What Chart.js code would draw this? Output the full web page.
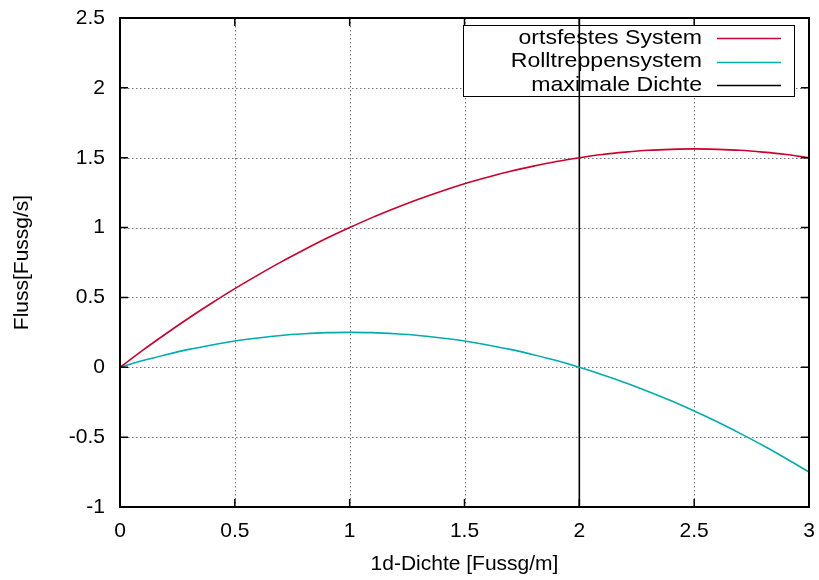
<!DOCTYPE html>
<html>
<head>
<meta charset="utf-8">
<script src="https://cdn.jsdelivr.net/npm/chart.js@4.4.0/dist/chart.umd.min.js"></script>
<style>
  body { margin: 0; background: #fff; }
  canvas { display: block; }
</style>
</head>
<body>
<canvas id="chart" width="819" height="580"></canvas>
<script>
// density values (x axis)
const dichte = [0, 0.1, 0.2, 0.3, 0.4, 0.5, 0.6, 0.7, 0.8, 0.9, 1.0,
  1.1, 1.2, 1.3, 1.4, 1.5, 1.6, 1.7, 1.8, 1.9, 2.0,
  2.1, 2.2, 2.3, 2.4, 2.5, 2.6, 2.7, 2.8, 2.9, 3.0];

// flow, fixed system
const flussOrtsfest = [0, 0.123, 0.24, 0.353, 0.46, 0.563, 0.66, 0.753, 0.84, 0.923, 1.0,
  1.073, 1.14, 1.203, 1.26, 1.313, 1.36, 1.403, 1.44, 1.473, 1.5,
  1.523, 1.54, 1.553, 1.56, 1.563, 1.56, 1.553, 1.54, 1.523, 1.5];

// flow, escalator system
const flussRolltreppe = [0, 0.048, 0.09, 0.128, 0.16, 0.188, 0.21, 0.228, 0.24, 0.248, 0.25,
  0.248, 0.24, 0.228, 0.21, 0.188, 0.16, 0.128, 0.09, 0.048, 0,
  -0.053, -0.11, -0.173, -0.24, -0.313, -0.39, -0.473, -0.56, -0.653, -0.75];

// maximum density marker
const maxDichteX = [2, 2];
const maxDichteY = [-1, 2.5];

const labels = ['ortsfestes System', 'Rolltreppensystem', 'maximale Dichte'];
const colors = ['rgb(204,0,44)', 'rgb(0,172,172)', '#000000'];

const FONT = '"Liberation Sans", Arial, Helvetica, sans-serif';
const FONT_SIZE = 21;

const toPoints = (xs, ys) => xs.map((x, i) => ({ x, y: ys[i] }));

// gnuplot-like frame: dotted grid, inner ticks, key box
const gnuplotFrame = {
  id: 'gnuplotFrame',
  beforeDatasetsDraw(chart) {
    const { ctx, chartArea: a, scales: { x, y } } = chart;
    ctx.save();
    ctx.strokeStyle = 'rgba(0,0,0,0.55)';
    ctx.lineWidth = 1;
    ctx.setLineDash([1.5, 2.5]);
    x.ticks.forEach(t => {
      const px = Math.round(x.getPixelForValue(t.value)) + 0.5;
      if (px <= a.left + 1 || px >= a.right - 1) return;
      ctx.beginPath(); ctx.moveTo(px, a.top); ctx.lineTo(px, a.bottom); ctx.stroke();
    });
    y.ticks.forEach(t => {
      const py = Math.round(y.getPixelForValue(t.value)) + 0.5;
      if (py <= a.top + 1 || py >= a.bottom - 1) return;
      ctx.beginPath(); ctx.moveTo(a.left, py); ctx.lineTo(a.right, py); ctx.stroke();
    });
    ctx.setLineDash([]);

    // key box
    const bx = 463, by = 25, bw = 331, bh = 71;
    ctx.fillStyle = '#fff';
    ctx.fillRect(bx, by, bw, bh);
    ctx.strokeStyle = '#000';
    ctx.lineWidth = 1;
    ctx.strokeRect(bx + 0.5, by + 0.5, bw, bh);
    ctx.font = FONT_SIZE + 'px ' + FONT;
    ctx.textAlign = 'right';
    ctx.textBaseline = 'middle';
    labels.forEach((lab, i) => {
      const ly = 38 + i * 23.5;
      ctx.save();
      ctx.translate(702, ly);
      ctx.scale(1.1, 1); // reference key text runs a bit wider
      ctx.fillStyle = '#000';
      ctx.fillText(lab, 0, 0);
      ctx.restore();
      ctx.strokeStyle = colors[i];
      ctx.lineWidth = 1.5;
      ctx.beginPath(); ctx.moveTo(717, Math.round(ly) + 0.5); ctx.lineTo(781, Math.round(ly) + 0.5); ctx.stroke();
    });
    ctx.restore();
  },
  afterDatasetsDraw(chart) {
    const { ctx, chartArea: a, scales: { x, y } } = chart;
    const len = 8;
    ctx.save();
    ctx.strokeStyle = '#000';
    ctx.lineWidth = 1.5;
    x.ticks.forEach(t => {
      const px = x.getPixelForValue(t.value);
      ctx.beginPath();
      ctx.moveTo(px, a.bottom); ctx.lineTo(px, a.bottom - len);
      ctx.moveTo(px, a.top); ctx.lineTo(px, a.top + len);
      ctx.stroke();
    });
    y.ticks.forEach(t => {
      const py = y.getPixelForValue(t.value);
      ctx.beginPath();
      ctx.moveTo(a.left, py); ctx.lineTo(a.left + len, py);
      ctx.moveTo(a.right, py); ctx.lineTo(a.right - len, py);
      ctx.stroke();
    });
    ctx.lineWidth = 2;
    ctx.strokeRect(a.left, a.top, a.right - a.left, a.bottom - a.top);
    ctx.restore();
  }
};

const noLabelPadding = (s) => {
  s.paddingTop = 0; s.paddingBottom = 0; s.paddingLeft = 0; s.paddingRight = 0;
};

new Chart(document.getElementById('chart').getContext('2d'), {
  type: 'line',
  data: {
    datasets: [
      { label: labels[0], data: toPoints(dichte, flussOrtsfest), borderColor: colors[0], borderWidth: 1.6 },
      { label: labels[1], data: toPoints(dichte, flussRolltreppe), borderColor: colors[1], borderWidth: 1.6 },
      { label: labels[2], data: toPoints(maxDichteX, maxDichteY), borderColor: colors[2], borderWidth: 1.6 },
    ],
  },
  options: {
    responsive: false,
    animation: false,
    events: [],
    elements: {
      point: { radius: 0 },
      line: { cubicInterpolationMode: 'monotone', fill: false },
    },
    layout: { padding: { top: 18, right: 10, left: 0, bottom: 0 } },
    plugins: {
      legend: { display: false },
      tooltip: { enabled: false },
    },
    scales: {
      x: {
        type: 'linear',
        min: 0,
        max: 3,
        grid: { display: false, drawTicks: false },
        border: { display: false },
        ticks: {
          stepSize: 0.5, color: '#000', padding: 12, maxRotation: 0,
          font: { family: FONT, size: FONT_SIZE },
          callback: (v) => String(v),
        },
        title: { display: true, text: '1d-Dichte [Fussg/m]', color: '#000', padding: { top: 0, bottom: 3 }, font: { family: FONT, size: FONT_SIZE } },
        afterFit: (s) => { s.height = 73; noLabelPadding(s); },
      },
      y: {
        type: 'linear',
        min: -1,
        max: 2.5,
        grid: { display: false, drawTicks: false },
        border: { display: false },
        ticks: {
          stepSize: 0.5, color: '#000', padding: 15,
          font: { family: FONT, size: FONT_SIZE },
          callback: (v) => String(v),
        },
        title: { display: true, text: 'Fluss[Fussg/s]', color: '#000', padding: { top: 10, bottom: 0 }, font: { family: FONT, size: FONT_SIZE } },
        afterFit: (s) => { s.width = 120; noLabelPadding(s); },
      },
    },
  },
  plugins: [gnuplotFrame],
});
</script>
</body>
</html>
